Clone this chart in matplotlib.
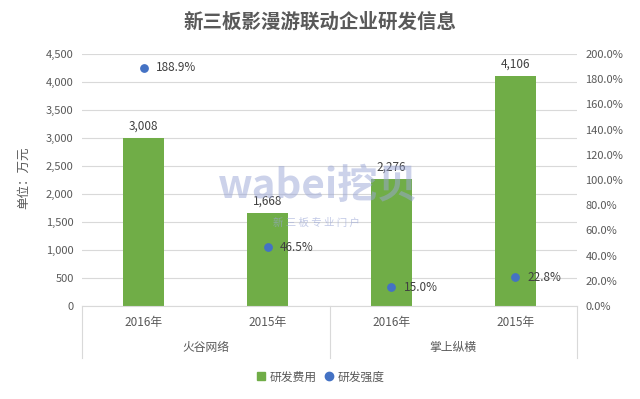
import matplotlib
matplotlib.use("Agg")
import matplotlib.pyplot as plt
from matplotlib.ticker import FuncFormatter, MultipleLocator
from matplotlib.lines import Line2D
import numpy as np

plt.rcParams['font.family'] = ['Noto Sans CJK SC', 'DejaVu Sans']

years = ["2016年", "2015年", "2016年", "2015年"]
companies = ["火谷网络", "掌上纵横"]
expense = [3008, 1668, 2276, 4106]          # 研发费用 (万元)
intensity = [188.9, 46.5, 15.0, 22.8]       # 研发强度 (%)

green = "#70AD47"
blue = "#4472C4"
txt = "#595959"
grid = "#D9D9D9"

fig = plt.figure(figsize=(6.4, 3.99), dpi=100)
ax = fig.add_axes([82/640, 1-306/399, (577-82)/640, (306-54)/399])
x = np.arange(len(years))
ax.bar(x, expense, width=0.33, color=green, zorder=2)
ax.set_xlim(-0.5, 3.5)
ax.set_ylim(0, 4500)
ax.yaxis.set_major_locator(MultipleLocator(500))
ax.yaxis.set_major_formatter(FuncFormatter(lambda v, p: f"{int(v):,}"))
ax.grid(axis='y', color=grid, linewidth=0.8, zorder=0)
for s in ['top', 'right', 'left']:
    ax.spines[s].set_visible(False)
ax.spines['bottom'].set_color(grid)
ax.tick_params(axis='y', length=0, labelsize=8, colors=txt, pad=6)
ax.set_xticks([])
for xi, v in zip(x, expense):
    ax.text(xi, v + 90, f"{v:,}", ha='center', va='bottom', fontsize=8.5, color="#404040")

ax.set_ylabel("单位：万元", fontsize=9, color=txt)
ax.yaxis.set_label_coords((30-82)/495, (306-178)/252)

ax2 = ax.twinx()
ax2.set_ylim(0, 200)
ax2.yaxis.set_major_locator(MultipleLocator(20))
ax2.yaxis.set_major_formatter(FuncFormatter(lambda v, p: f"{v:.1f}%"))
for s in ax2.spines.values():
    s.set_visible(False)
ax2.tick_params(axis='y', length=0, labelsize=8, colors=txt, pad=6)
ax2.scatter(x, intensity, s=28, color=blue, zorder=3)
for xi, v in zip(x, intensity):
    ax2.text(xi + 0.1, v, f"{v:.1f}%", ha='left', va='center', fontsize=8.5, color="#404040")

# two-level category axis
trans = ax.get_xaxis_transform()
for xi, y in zip(x, years):
    ax.text(xi, -0.065, y, transform=trans, ha='center', va='center', fontsize=8.5, color=txt)
for i, c in enumerate(companies):
    ax.text(0.5 + 2*i, -0.165, c, transform=trans, ha='center', va='center', fontsize=8.5, color=txt)
for xv in [-0.5, 1.5, 3.5]:
    ax.add_line(Line2D([xv, xv], [0, -0.205], transform=trans, color=grid, linewidth=0.8, clip_on=False))

fig.text(0.5, 1-22/399, "新三板影漫游联动企业研发信息", ha='center', va='center',
         fontsize=14, fontweight='bold', color=txt)

# watermark
fig.text(318/640, 1-186/399, "wabei挖贝", ha='center', va='center', fontsize=29,
         fontweight='bold', color="#9AA6D6", alpha=0.5, zorder=10)
fig.text(316/640, 1-223/399, "新 三 板 专 业 门 户", ha='center', va='center', fontsize=7.5,
         color="#9AA6D6", alpha=0.6, zorder=10)

handles = [Line2D([], [], marker='s', linestyle='none', color=green, markersize=6),
           Line2D([], [], marker='o', linestyle='none', color=blue, markersize=6)]
fig.legend(handles, ["研发费用", "研发强度"], loc='center', bbox_to_anchor=(0.5, 1-377/399),
           ncol=2, frameon=False, fontsize=8.5, handletextpad=0.2, columnspacing=0.6,
           labelcolor=txt, handlelength=1.0)

fig.savefig("out.png", dpi=100)
